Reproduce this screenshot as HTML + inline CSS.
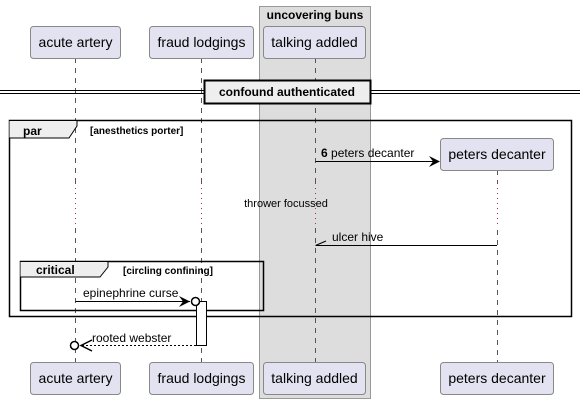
<!DOCTYPE html>
<html><head><meta charset="utf-8"><style>body{margin:0;background:#fff}svg{display:block}text{font-family:"Liberation Sans",sans-serif}</style></head><body>
<svg width="580" height="404" viewBox="0 0 580 404" xmlns="http://www.w3.org/2000/svg">
<rect x="259.5" y="6.5" width="111" height="392" fill="#ddd" stroke="#999"/>
<text x="315" y="19" font-size="12" font-weight="bold" text-anchor="middle">uncovering buns</text>
<g stroke="#555" stroke-dasharray="5,5" stroke-width="1">
<line x1="75.5" y1="58" x2="75.5" y2="362"/>
<line x1="201.5" y1="58" x2="201.5" y2="362"/>
<line x1="315.5" y1="58" x2="315.5" y2="362"/>
<line x1="497.5" y1="170" x2="497.5" y2="362"/>
</g>
<g stroke="#fff" stroke-width="3"><line x1="75.5" y1="183" x2="75.5" y2="226"/><line x1="201.5" y1="183" x2="201.5" y2="226"/><line x1="497.5" y1="183" x2="497.5" y2="226"/></g>
<line x1="315.5" y1="183" x2="315.5" y2="226" stroke="#ddd" stroke-width="3"/>
<g stroke="#a03050" stroke-dasharray="1,4"><line x1="75.5" y1="183" x2="75.5" y2="226"/><line x1="201.5" y1="183" x2="201.5" y2="226"/><line x1="315.5" y1="183" x2="315.5" y2="226"/><line x1="497.5" y1="183" x2="497.5" y2="226"/></g>
<g fill="#e2e2f0" stroke="#888">
<rect x="30.5" y="26.5" width="90" height="32" rx="3"/><rect x="149.5" y="26.5" width="104" height="32" rx="3"/><rect x="263.5" y="26.5" width="102" height="32" rx="3"/>
<rect x="30.5" y="362.5" width="90" height="32" rx="3"/><rect x="149.5" y="362.5" width="104" height="32" rx="3"/><rect x="263.5" y="362.5" width="102" height="32" rx="3"/><rect x="440.5" y="362.5" width="113" height="32" rx="3"/>
<rect x="440.5" y="138.5" width="113" height="32" rx="3"/>
</g>
<g font-size="14" text-anchor="middle">
<text x="75.5" y="47">acute artery</text><text x="201.5" y="47">fraud lodgings</text><text x="314.5" y="47">talking addled</text>
<text x="75.5" y="383">acute artery</text><text x="201.5" y="383">fraud lodgings</text><text x="314.5" y="383">talking addled</text><text x="497" y="383">peters decanter</text>
<text x="497" y="159">peters decanter</text>
</g>
<g stroke="#000"><line x1="0" y1="90.5" x2="580" y2="90.5"/><line x1="0" y1="93.5" x2="580" y2="93.5"/></g>
<rect x="204.5" y="80.5" width="166" height="23" fill="#eee" stroke="#000" stroke-width="2"/>
<text x="287" y="96" font-size="12" font-weight="bold" text-anchor="middle">confound authenticated</text>
<rect x="9.5" y="120.5" width="562" height="196" fill="none" stroke="#000" stroke-width="1.5"/>
<path d="M9.5 120.5 H77 V126 L69 138 H9.5" fill="#eee" stroke="#000"/>
<text x="23" y="135" font-size="12" font-weight="bold">par</text>
<text x="90" y="134" font-size="10" font-weight="bold">[anesthetics porter]</text>
<line x1="315.5" y1="161.5" x2="439" y2="161.5" stroke="#000"/>
<path d="M429 156 L440 161.5 L429 167 L433 161.5Z" fill="#000"/>
<text x="321" y="157" font-size="12"><tspan font-weight="bold">6</tspan> peters decanter</text>
<text x="286" y="207" font-size="11" text-anchor="middle">thrower focussed</text>
<line x1="315.5" y1="245.5" x2="497" y2="245.5" stroke="#000"/>
<line x1="315.5" y1="245.5" x2="326" y2="241" stroke="#000"/>
<text x="332" y="241" font-size="12">ulcer hive</text>
<rect x="20.5" y="261.5" width="243" height="49" fill="none" stroke="#000" stroke-width="1.5"/>
<path d="M20.5 261.5 H108 V267 L100 277 H20.5" fill="#eee" stroke="#000"/>
<text x="36" y="274" font-size="12" font-weight="bold">critical</text>
<text x="123" y="274" font-size="10" font-weight="bold">[circling confining]</text>
<rect x="196.5" y="301.5" width="10" height="44" fill="#fff" stroke="#000"/>
<line x1="75.5" y1="301.5" x2="190" y2="301.5" stroke="#000"/>
<path d="M179 296 L190 301.5 L179 307 L183 301.5Z" fill="#000"/>
<circle cx="195.5" cy="301.5" r="4" fill="#fff" stroke="#000" stroke-width="1.5"/>
<text x="83" y="297" font-size="12">epinephrine curse</text>
<line x1="82" y1="345.5" x2="196" y2="345.5" stroke="#000" stroke-dasharray="2,2"/>
<path d="M92 340 L81 345.5 L92 351" fill="none" stroke="#000" stroke-width="1.5"/>
<circle cx="74.5" cy="345.5" r="4" fill="#fff" stroke="#000" stroke-width="1.5"/>
<text x="92" y="342" font-size="12">rooted webster</text>
</svg>
</body></html>
